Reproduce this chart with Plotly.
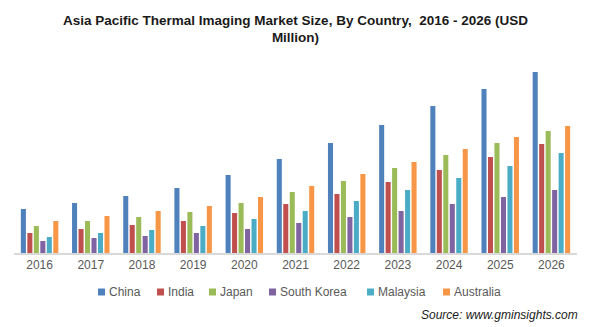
import plotly.graph_objects as go

years = ["2016", "2017", "2018", "2019", "2020", "2021", "2022", "2023", "2024", "2025", "2026"]
china = [44, 50, 57, 65, 78, 94, 110, 128, 147, 164, 181]
india = [20, 24, 28, 32, 40, 49, 59, 71, 83, 96, 109]
japan = [27, 32, 36, 41, 50, 61, 72, 85, 98, 110, 122]
south_korea = [12, 15, 17, 20, 24, 30, 36, 42, 49, 56, 63]
malaysia = [16, 20, 23, 27, 34, 42, 52, 63, 75, 87, 100]
australia = [32, 37, 42, 47, 56, 67, 79, 91, 104, 116, 127]

series = [
    ("China", china, "#4F81BD"),
    ("India", india, "#C0504D"),
    ("Japan", japan, "#9BBB59"),
    ("South Korea", south_korea, "#8064A2"),
    ("Malaysia", malaysia, "#4BACC6"),
    ("Australia", australia, "#F79646"),
]

W, H = 591, 327
ML, MR, MT, MB = 14, 14, 60, 74
PW, PH = W - ML - MR, H - MT - MB

def px_x(x):
    return (x - ML) / PW

def px_y(y):
    return (H - MB - y) / PH

fig = go.Figure()
for name, vals, col in series:
    fig.add_trace(go.Bar(x=years, y=vals, name=name, showlegend=False,
                         marker=dict(color=col, line=dict(width=0))))

# compact legend (square swatch + label) like the original
legend_x = [98, 157, 209, 269, 367, 443]
legend_y = 292
shapes = []
annotations = []
for (name, _, col), lx in zip(series, legend_x):
    shapes.append(dict(type="rect", xref="paper", yref="paper",
                       x0=px_x(lx), x1=px_x(lx + 7), y0=px_y(legend_y + 3.5), y1=px_y(legend_y - 3.5),
                       fillcolor=col, line=dict(width=0)))
    annotations.append(dict(text=name, xref="paper", yref="paper", x=px_x(lx + 9), y=px_y(legend_y),
                            xanchor="left", yanchor="middle", showarrow=False,
                            font=dict(family="Liberation Sans, Arial", size=12, color="#595959")))

annotations.append(dict(text="<i>Source: www.gminsights.com</i>", xref="paper", yref="paper",
                        x=px_x(580), y=px_y(315), xanchor="right", yanchor="middle", showarrow=False,
                        font=dict(family="Liberation Sans, Arial", size=12, color="#1a1a1a")))

fig.update_layout(
    width=W, height=H,
    margin=dict(l=ML, r=MR, t=MT, b=MB),
    paper_bgcolor="white", plot_bgcolor="white",
    barmode="group", bargap=0.24, bargroupgap=0.22,
    title=dict(
        text="<b>Asia Pacific Thermal Imaging Market Size, By Country,  2016 - 2026 (USD<br>Million)</b>",
        x=0.5, xanchor="center", y=0.925, yanchor="middle",
        font=dict(family="Liberation Sans Narrow, Arial Narrow, Arial", size=13.5, color="#1a1a1a"),
    ),
    xaxis=dict(showgrid=False, showline=True, linecolor="#D9D9D9", linewidth=1.5,
               ticks="", tickfont=dict(family="Liberation Sans, Arial", size=12, color="#595959")),
    yaxis=dict(visible=False, range=[0, 193]),
    showlegend=False,
    shapes=shapes,
    annotations=annotations,
)

fig.write_html("out.html")
